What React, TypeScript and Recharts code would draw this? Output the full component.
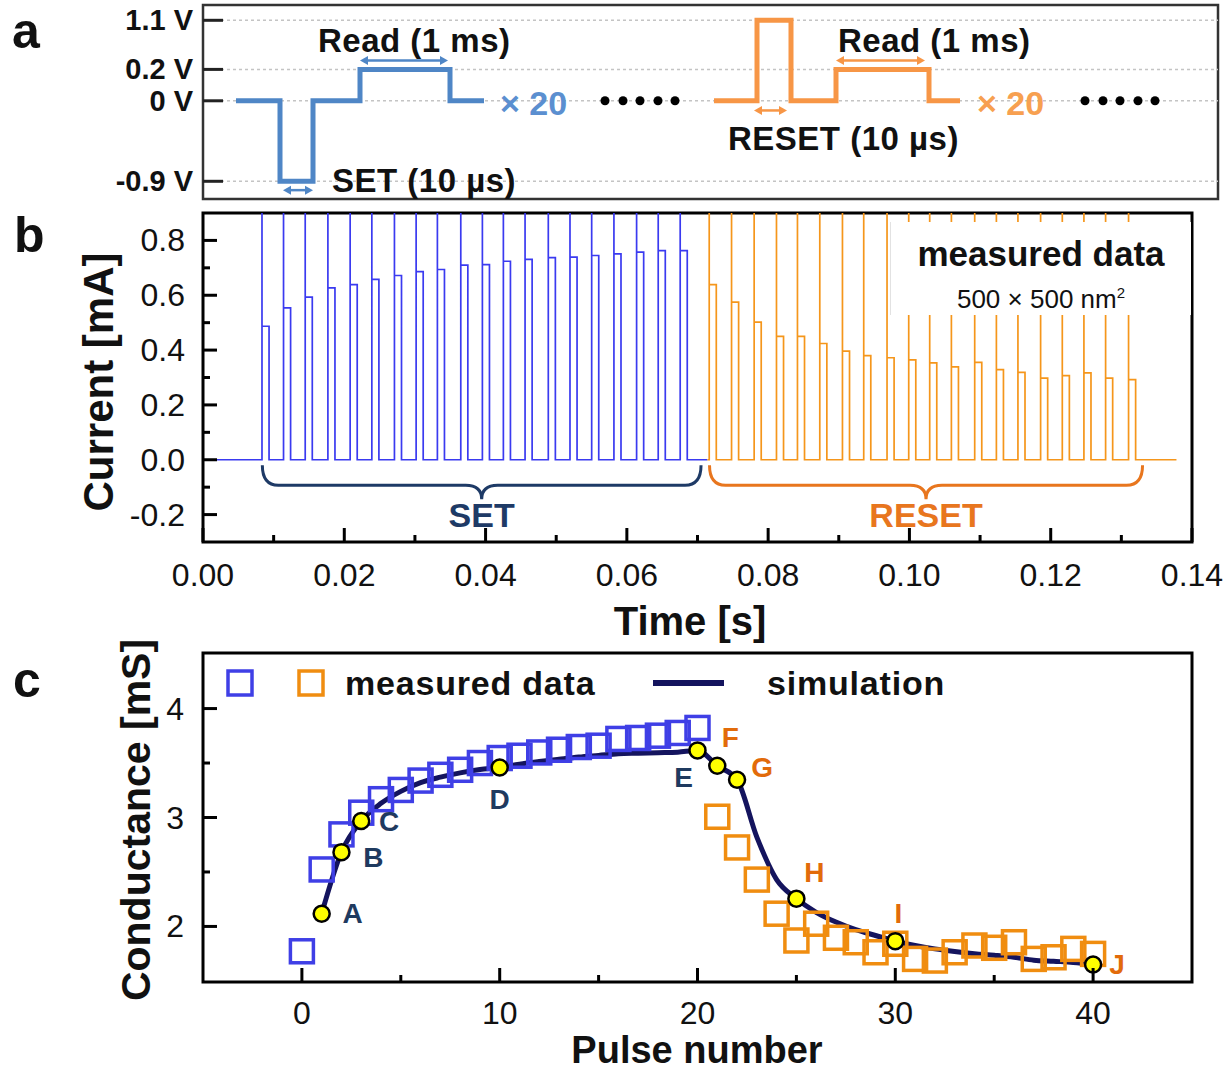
import React from 'react';
import {
  LineChart,
  Line,
  XAxis,
  YAxis,
  ReferenceLine,
  ReferenceArea,
  ReferenceDot,
  ComposedChart,
  Scatter,
} from 'recharts';

const FONT = '"Liberation Sans", Arial, Helvetica, sans-serif';

// ---------- panel a: pulse scheme ----------
const levelLabels = ['-0.9 V', '0 V', '0.2 V', '1.1 V'];
const levelVolts = [-0.9, 0, 0.2, 1.1];
const levelDrawn = [-1, 0, 0.39, 1]; // height of each level in the sketch

const setWaveT = [33, 77, 77, 110, 110, 157, 157, 247, 247, 281];
const setWaveV = [0, 0, -0.9, -0.9, 0, 0, 0.2, 0.2, 0, 0];
const resetWaveT = [511, 554, 554, 588, 588, 633, 633, 726, 726, 757];
const resetWaveV = [0, 0, 1.1, 1.1, 0, 0, 0.2, 0.2, 0, 0];
const setDotsT = [402, 420, 437, 455, 472];
const resetDotsT = [882, 900, 917, 935, 952];

// ---------- panel b: measured current ----------
const setPulseT = [
  0.00835, 0.0114, 0.01447, 0.01768, 0.02083, 0.0239, 0.0271, 0.03017, 0.03318, 0.03649,
  0.03955, 0.04252, 0.04559, 0.04888, 0.05195, 0.05502, 0.05817, 0.06138, 0.06444, 0.06755,
];
const setReadI = [
  0.487, 0.554, 0.593, 0.627, 0.639, 0.658, 0.672, 0.686, 0.694, 0.71,
  0.712, 0.724, 0.731, 0.737, 0.739, 0.745, 0.751, 0.757, 0.763, 0.763,
];
const resetPulseT = [
  0.07166, 0.07482, 0.07802, 0.08118, 0.08415, 0.08731, 0.09052, 0.09353, 0.09683, 0.0999,
  0.10287, 0.10594, 0.10924, 0.11231, 0.11536, 0.11857, 0.12164, 0.1247, 0.12777, 0.13102,
];
const resetReadI = [
  0.639, 0.575, 0.502, 0.45, 0.45, 0.424, 0.396, 0.38, 0.372, 0.364,
  0.353, 0.339, 0.355, 0.329, 0.319, 0.298, 0.307, 0.317, 0.298, 0.292,
];
const readWidth = 0.001;
const spikeI = 0.9;
const traceStart = 0;
const traceSwitch = 0.0714;
const traceEnd = 0.1378;
const timeTicks = [0, 0.01, 0.02, 0.03, 0.04, 0.05, 0.06, 0.07, 0.08, 0.09, 0.1, 0.11, 0.12, 0.13, 0.14];
const timeMajors = [0, 0.02, 0.04, 0.06, 0.08, 0.1, 0.12, 0.14];
const currentTicks = [-0.2, -0.1, 0, 0.1, 0.2, 0.3, 0.4, 0.5, 0.6, 0.7, 0.8];
const currentMajors = [-0.2, 0, 0.2, 0.4, 0.6, 0.8];

// ---------- panel c: conductance ----------
const setPulses = [0, 1, 2, 3, 4, 5, 6, 7, 8, 9, 10, 11, 12, 13, 14, 15, 16, 17, 18, 19, 20];
const setG = [
  1.772, 2.523, 2.845, 3.044, 3.168, 3.253, 3.339, 3.392, 3.438, 3.5, 3.546,
  3.567, 3.597, 3.622, 3.647, 3.659, 3.721, 3.73, 3.751, 3.776, 3.822,
];
const resetPulses = [21, 22, 23, 24, 25, 26, 27, 28, 29, 30, 31, 32, 33, 34, 35, 36, 37, 38, 39, 40];
const resetG = [
  3.007, 2.725, 2.43, 2.117, 1.871, 2.025, 1.896, 1.855, 1.763, 1.841,
  1.702, 1.687, 1.763, 1.825, 1.804, 1.855, 1.702, 1.717, 1.794, 1.748,
];
const simPulses = [
  1, 2, 3, 4, 5, 6, 7, 8, 9, 10, 11, 12, 13, 14, 15, 16, 17, 18, 19, 20,
  21, 22, 23, 24, 25, 26, 27, 28, 29, 30, 31, 32, 33, 34, 35, 36, 37, 38, 39, 40,
];
const simG = [
  2.117, 2.682, 2.968, 3.13, 3.24, 3.32, 3.37, 3.41, 3.44, 3.459,
  3.49, 3.514, 3.535, 3.555, 3.57, 3.585, 3.59, 3.595, 3.6, 3.616,
  3.475, 3.346, 2.82, 2.43, 2.255, 2.13, 2.04, 1.97, 1.917, 1.865,
  1.825, 1.794, 1.77, 1.75, 1.735, 1.717, 1.69, 1.68, 1.67, 1.65,
];
const markNames = ['A', 'B', 'C', 'D', 'E', 'F', 'G', 'H', 'I', 'J'];
const markPulses = [1, 2, 3, 10, 20, 21, 22, 25, 30, 40];
const pulseTicks = [0, 5, 10, 15, 20, 25, 30, 35, 40];
const pulseMajors = [0, 10, 20, 30, 40];
const gTicks = [2, 2.5, 3, 3.5, 4];
const gMajors = [2, 3, 4];

// label placement (px) for the marked simulation points
const markOffset: Record<string, [number, number]> = {
  A: [31, 0], B: [32, 5], C: [28, 1], D: [0, 32], E: [-14, 27],
  F: [13, -28], G: [25, -12], H: [18, -26], I: [3, -28], J: [24, 0],
};

const drawn = (v: number) => levelDrawn[levelVolts.indexOf(v)];
const setWave = setWaveT.map((x, k) => ({ x, y: drawn(setWaveV[k]) }));
const resetWave = resetWaveT.map((x, k) => ({ x, y: drawn(resetWaveV[k]) }));

const buildTrace = (start: number, end: number, times: number[], levels: number[]) => {
  const pts = [{ t: start, i: 0 }];
  times.forEach((t, k) => {
    pts.push({ t, i: 0 }, { t, i: spikeI }, { t, i: levels[k] });
    pts.push({ t: t + readWidth, i: levels[k] }, { t: t + readWidth, i: 0 });
  });
  pts.push({ t: end, i: 0 });
  return pts;
};
const setTrace = buildTrace(traceStart, traceSwitch, setPulseT, setReadI);
const resetTrace = buildTrace(traceSwitch, traceEnd, resetPulseT, resetReadI);

const setPoints = setPulses.map((x, k) => ({ x, g: setG[k] }));
const resetPoints = resetPulses.map((x, k) => ({ x, g: resetG[k] }));
const simPoints = simPulses.map((x, k) => ({ x, g: simG[k] }));

const isIn = (arr: number[], v: number) => arr.some((m) => Math.abs(m - v) < 1e-9);

// inward ticks on left axes
const leftTick = (majors: number[], fmt: (v: number) => string, gap: number, fontSize: number) =>
  (props: any) => {
    const { x, y, payload } = props;
    const major = isIn(majors, payload.value);
    return (
      <g>
        <line x1={x} y1={y} x2={x + (major ? 14 : 7)} y2={y} stroke="#000" strokeWidth={3} />
        {major && (
          <text x={x - gap} y={y} textAnchor="end" dominantBaseline="central"
            fontSize={fontSize} fontFamily={FONT} fill="#111">
            {fmt(payload.value)}
          </text>
        )}
      </g>
    );
  };

// inward ticks on bottom axes
const bottomTick = (majors: number[], fmt: (v: number) => string, gap: number, fontSize: number) =>
  (props: any) => {
    const { x, y, payload } = props;
    const major = isIn(majors, payload.value);
    return (
      <g>
        <line x1={x} y1={y} x2={x} y2={y - (major ? 14 : 7)} stroke="#000" strokeWidth={3} />
        {major && (
          <text x={x} y={y + gap} textAnchor="middle" dominantBaseline="central"
            fontSize={fontSize} fontFamily={FONT} fill="#111">
            {fmt(payload.value)}
          </text>
        )}
      </g>
    );
  };

const levelTick = (props: any) => {
  const { x, y, payload } = props;
  const k = levelDrawn.indexOf(payload.value);
  return (
    <g>
      <line x1={x} y1={y} x2={x + 20} y2={y} stroke="#222" strokeWidth={3} />
      <text x={x - 10} y={y} textAnchor="end" dominantBaseline="central"
        fontSize={29} fontWeight="bold" fontFamily={FONT} fill="#111">
        {levelLabels[k]}
      </text>
    </g>
  );
};

const arrowShape = (color: string) => (p: any) => {
  const { x1, y1, x2, y2 } = p;
  const h = 8;
  return (
    <g>
      <line x1={x1 + 3} y1={y1} x2={x2 - 3} y2={y2} stroke={color} strokeWidth={2.5} />
      <path d={`M${x1},${y1} L${x1 + h},${y1 - 4.5} L${x1 + h},${y1 + 4.5} Z`} fill={color} />
      <path d={`M${x2},${y2} L${x2 - h},${y2 - 4.5} L${x2 - h},${y2 + 4.5} Z`} fill={color} />
    </g>
  );
};

const textShape = (label: string, color: string, size: number, anchor: 'start' | 'middle' | 'end', spacing = 0) =>
  (p: any) => (
    <text x={p.cx} y={p.cy} textAnchor={anchor} dominantBaseline="central" fontSize={size}
      fontWeight="bold" fontFamily={FONT} fill={color} letterSpacing={spacing}>
      {label}
    </text>
  );

const braceShape = (label: string, color: string) => (p: any) => {
  const { x1, y1, x2 } = p;
  const xm = (x1 + x2) / 2;
  const yb = y1 + 20;
  const d = `M${x1},${y1} Q${x1},${yb} ${x1 + 16},${yb} L${xm - 16},${yb} Q${xm},${yb} ${xm},${yb + 14} ` +
    `Q${xm},${yb} ${xm + 16},${yb} L${x2 - 16},${yb} Q${x2},${yb} ${x2},${y1}`;
  return (
    <g>
      <path d={d} fill="none" stroke={color} strokeWidth={3} />
      <text x={xm} y={y1 + 50} textAnchor="middle" dominantBaseline="central" fontSize={34}
        fontWeight="bold" fontFamily={FONT} fill={color}>
        {label}
      </text>
    </g>
  );
};

const PanelA = () => {
  const blue = '#4f86c6';
  const orange = '#f79646';
  return (
    <LineChart width={1230} height={210} margin={{ top: 5, right: 12, bottom: 11, left: 0 }}>
      <XAxis dataKey="x" type="number" domain={[0, 1015]} hide allowDataOverflow />
      <YAxis type="number" domain={[-1.22, 1.19]} ticks={levelDrawn} interval={0} width={203}
        tick={levelTick} tickSize={0} tickMargin={0} axisLine={false} tickLine={false} allowDataOverflow />
      {levelDrawn.map((v) => (
        <ReferenceLine key={`g${v}`} y={v} stroke="#c4c4c4" strokeWidth={1.5} strokeDasharray="3 3" />
      ))}
      <ReferenceArea x1={0} x2={1015} y1={-1.22} y2={1.19} fill="none" fillOpacity={0}
        stroke="#333" strokeWidth={2.5} />
      <Line data={setWave} dataKey="y" type="linear" stroke={blue} strokeWidth={5} dot={false}
        strokeLinejoin="miter" isAnimationActive={false} />
      <Line data={resetWave} dataKey="y" type="linear" stroke={orange} strokeWidth={5} dot={false}
        strokeLinejoin="miter" isAnimationActive={false} />
      <ReferenceLine segment={[{ x: 157, y: 0.5 }, { x: 245, y: 0.5 }]} shape={arrowShape(blue)} />
      <ReferenceLine segment={[{ x: 80, y: -1.11 }, { x: 110, y: -1.11 }]} shape={arrowShape(blue)} />
      <ReferenceLine segment={[{ x: 633, y: 0.5 }, { x: 722, y: 0.5 }]} shape={arrowShape(orange)} />
      <ReferenceLine segment={[{ x: 551, y: -0.12 }, { x: 584, y: -0.12 }]} shape={arrowShape(orange)} />
      <ReferenceDot x={115} y={0.75} r={0} shape={textShape('Read (1 ms)', '#111', 33, 'start', 0.5)} />
      <ReferenceDot x={635} y={0.75} r={0} shape={textShape('Read (1 ms)', '#111', 33, 'start', 0.5)} />
      <ReferenceDot x={129} y={-0.99} r={0} shape={textShape('SET (10 µs)', '#111', 33, 'start', 0.5)} />
      <ReferenceDot x={525} y={-0.47} r={0} shape={textShape('RESET (10 µs)', '#111', 33, 'start', 0.5)} />
      <ReferenceDot x={297} y={-0.03} r={0} shape={textShape('× 20', '#5b8fd0', 34, 'start')} />
      <ReferenceDot x={774} y={-0.03} r={0} shape={textShape('× 20', '#f7a050', 34, 'start')} />
      {setDotsT.concat(resetDotsT).map((x) => (
        <ReferenceDot key={`dot${x}`} x={x} y={0} r={4.5} fill="#000" stroke="none" />
      ))}
    </LineChart>
  );
};

const PanelB = () => (
  <LineChart width={1230} height={465} margin={{ top: 13, right: 38, bottom: 0, left: 0 }}>
    <XAxis dataKey="t" type="number" domain={[0, 0.14]} ticks={timeTicks} interval={0} height={123}
      tick={bottomTick(timeMajors, (v) => v.toFixed(2), 33, 32)} tickSize={0} tickMargin={0}
      axisLine={false} tickLine={false} allowDataOverflow
      label={(p: any) => (
        <text x={690} y={421} textAnchor="middle" dominantBaseline="central" fontSize={40}
          fontWeight="bold" fontFamily={FONT} fill="#111">Time [s]</text>
      )} />
    <YAxis type="number" domain={[-0.3, 0.9]} ticks={currentTicks} interval={0} width={203}
      tick={leftTick(currentMajors, (v) => v.toFixed(1), 18, 32)} tickSize={0} tickMargin={0}
      axisLine={false} tickLine={false} allowDataOverflow
      label={(p: any) => (
        <text x={98} y={182} transform="rotate(-90 98 182)" textAnchor="middle" dominantBaseline="central"
          fontSize={42} fontWeight="bold" fontFamily={FONT} fill="#111">Current [mA]</text>
      )} />
    <Line data={setTrace} dataKey="i" type="linear" stroke="#3a3af0" strokeWidth={1.7} dot={false}
      isAnimationActive={false} />
    <Line data={resetTrace} dataKey="i" type="linear" stroke="#f5961b" strokeWidth={1.7} dot={false}
      isAnimationActive={false} />
    <ReferenceArea x1={0} x2={0.14} y1={-0.3} y2={0.9} fill="none" fillOpacity={0} stroke="#000" strokeWidth={3} />
    <ReferenceLine segment={[{ x: 0.0084, y: -0.02 }, { x: 0.0705, y: -0.02 }]}
      shape={braceShape('SET', '#1e3a66')} />
    <ReferenceLine segment={[{ x: 0.0717, y: -0.02 }, { x: 0.133, y: -0.02 }]}
      shape={braceShape('RESET', '#e8761e')} />
  </LineChart>
);

const simDot = (p: any) => {
  const k = markPulses.indexOf(p.payload.x);
  if (k < 0) return <g key={`sd${p.index}`} />;
  const name = markNames[k];
  const [dx, dy] = markOffset[name];
  return (
    <g key={`sd${p.index}`}>
      <circle cx={p.cx} cy={p.cy} r={8} fill="#ffff00" stroke="#000" strokeWidth={2.5} />
      <text x={p.cx + dx} y={p.cy + dy} textAnchor="middle" dominantBaseline="central" fontSize={28}
        fontWeight="bold" fontFamily={FONT} fill={k < 5 ? '#1f3a5f' : '#e26b0a'}>
        {name}
      </text>
    </g>
  );
};

const square = (color: string) => (p: any) => (
  <rect x={p.cx - 11.5} y={p.cy - 11.5} width={23} height={23} fill="none" stroke={color} strokeWidth={3.5} />
);

const PanelC = () => (
  <ComposedChart width={1230} height={451} margin={{ top: 33, right: 38, bottom: 0, left: 0 }}>
    <XAxis dataKey="x" type="number" domain={[-5, 45]} ticks={pulseTicks} interval={0} height={89}
      tick={bottomTick(pulseMajors, (v) => String(v), 31, 32)} tickSize={0} tickMargin={0}
      axisLine={false} tickLine={false} allowDataOverflow
      label={(p: any) => (
        <text x={697} y={430} textAnchor="middle" dominantBaseline="central" fontSize={38}
          fontWeight="bold" fontFamily={FONT} fill="#111">Pulse number</text>
      )} />
    <YAxis dataKey="g" type="number" domain={[1.49, 4.51]} ticks={gTicks} interval={0} width={203}
      tick={leftTick(gMajors, (v) => String(v), 19, 32)} tickSize={0} tickMargin={0}
      axisLine={false} tickLine={false} allowDataOverflow
      label={(p: any) => (
        <text x={136} y={200} transform="rotate(-90 136 200)" textAnchor="middle" dominantBaseline="central"
          fontSize={41} fontWeight="bold" fontFamily={FONT} fill="#111">Conductance [mS]</text>
      )} />
    <ReferenceArea x1={-5} x2={45} y1={1.49} y2={4.51} fill="none" fillOpacity={0} stroke="#000" strokeWidth={3} />
    <Scatter data={setPoints} dataKey="g" shape={square('#3f3fe6')} isAnimationActive={false} />
    <Scatter data={resetPoints} dataKey="g" shape={square('#f08d10')} isAnimationActive={false} />
    <Line data={simPoints} dataKey="g" type="monotone" stroke="#14145e" strokeWidth={5} dot={simDot}
      activeDot={false} isAnimationActive={false} />
  </ComposedChart>
);

const letterStyle: React.CSSProperties = {
  position: 'absolute',
  fontFamily: FONT,
  fontWeight: 'bold',
  fontSize: 50,
  lineHeight: '50px',
  color: '#111',
};

export default function App() {
  return (
    <div style={{ position: 'absolute', left: 0, top: 0, width: 1230, height: 1071, background: '#fff', overflow: 'hidden' }}>
      <div style={{ position: 'absolute', left: 0, top: 0 }}>
        <PanelA />
      </div>
      <div style={{ position: 'absolute', left: 0, top: 620 }}>
        <PanelC />
      </div>
      <div style={{ position: 'absolute', left: 0, top: 200 }}>
        <PanelB />
      </div>

      {/* panel b note box, sits over the clipped spikes */}
      <div style={{
        position: 'absolute', left: 890, top: 222, width: 300, height: 93, background: '#fff',
        borderLeft: '1px solid #e2e2e2', fontFamily: FONT, color: '#111', textAlign: 'center',
      }}>
        <div style={{ fontSize: 35, fontWeight: 'bold', lineHeight: '40px', marginTop: 12 }}>measured data</div>
        <div style={{ fontSize: 26, lineHeight: '30px', marginTop: 4 }}>
          500 × 500 nm<sup style={{ fontSize: 15 }}>2</sup>
        </div>
      </div>

      {/* panel c legend */}
      <svg width={1230} height={80} style={{ position: 'absolute', left: 0, top: 643 }}>
        <rect x={228} y={28} width={24} height={24} fill="none" stroke="#3f3fe6" strokeWidth={3.5} />
        <rect x={299} y={28} width={24} height={24} fill="none" stroke="#f08d10" strokeWidth={3.5} />
        <text x={345} y={40} dominantBaseline="central" fontSize={34} fontWeight="bold" fontFamily={FONT}
          fill="#111" letterSpacing={0.8}>measured data</text>
        <line x1={653} y1={40} x2={724} y2={40} stroke="#14145e" strokeWidth={6} />
        <text x={767} y={40} dominantBaseline="central" fontSize={34} fontWeight="bold" fontFamily={FONT}
          fill="#111" letterSpacing={0.8}>simulation</text>
      </svg>

      <div style={{ ...letterStyle, left: 12, top: 6 }}>a</div>
      <div style={{ ...letterStyle, left: 14, top: 210 }}>b</div>
      <div style={{ ...letterStyle, left: 13, top: 655 }}>c</div>
    </div>
  );
}
